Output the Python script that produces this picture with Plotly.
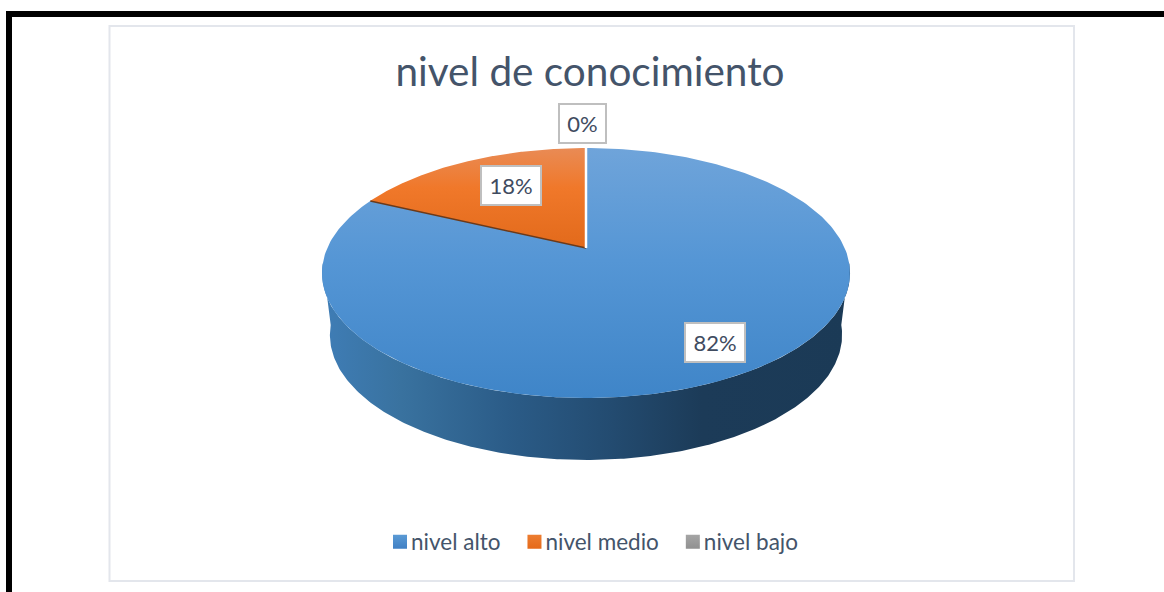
import numpy as np
import plotly.graph_objects as go

TITLE = "nivel de conocimiento"
categories = ["nivel alto", "nivel medio", "nivel bajo"]
values = [82, 18, 0]
key_colors = ["#5b9bd5", "#ed7d31", "#a5a5a5"]
key_edges = ["#4080c4", "#e56a1a", "#909090"]

# projection of the 3-D pie onto the page (pixel-space axes)
CX, CY, RX, SY, K = 586.0, 248.0, 258.7, 120.0, 0.2
DEPTH, SHRINK = 62.0, 0.97
LABEL_FRACTION = {"nivel alto": 0.80, "nivel medio": 0.68}
LABEL_SHIFT = {"nivel alto": (1, -1), "nivel medio": (10, 1), "nivel bajo": (0, 0)}
LABEL_WIDTH = {"nivel alto": 58, "nivel medio": 58, "nivel bajo": 45}
FONT = "Lato, Carlito, 'Open Sans', sans-serif"


def project(theta, frac=1.0, depth=0.0, scale=1.0):
    """theta in radians, clockwise from 12 o'clock."""
    u, v = frac * np.sin(theta), frac * np.cos(theta)
    w = 1 + K * v
    return CX + scale * RX * u / w, CY - SY * v / w + depth


def sector(start, end):
    t = np.linspace(start, end, 240)
    x, y = project(t)
    return np.r_[CX, x, CX], np.r_[CY, y, CY]


total = sum(values)
fractions = [v / total for v in values]
a0 = 0.0
a1 = a0 + 2 * np.pi * fractions[0]
a2 = a1 + 2 * np.pi * fractions[1]

fig = go.Figure()

# side wall: crescent between top rim and the shifted lower rim
t_near = np.linspace(np.radians(97), np.radians(263), 300)
xt, yt = project(t_near)
xb, yb = project(t_near, depth=DEPTH, scale=SHRINK)
fig.add_trace(go.Scatter(
    x=np.r_[xt, xb[::-1], xt[0]], y=np.r_[yt, yb[::-1], yt[0]],
    mode="lines", line=dict(width=0), fill="toself", hoverinfo="skip", showlegend=False,
    fillgradient=dict(type="horizontal", colorscale=[
        [0.0, "#3f7db6"], [0.15, "#39729f"], [0.35, "#2b5c88"], [0.55, "#234b70"],
        [0.72, "#1c3b58"], [1.0, "#1b3a56"]]),
))

# top face: blue slice (the y axis is reversed, so the scale runs bottom to top)
x, y = sector(a0, a1)
fig.add_trace(go.Scatter(
    x=x, y=y, mode="lines", line=dict(width=0), fill="toself",
    hoverinfo="skip", showlegend=False,
    fillgradient=dict(type="vertical", colorscale=[
        [0.0, "#3f85c8"], [0.55, "#5596d5"], [1.0, "#6fa4da"]]),
))
# top face: orange slice
x, y = sector(a1, a2)
fig.add_trace(go.Scatter(
    x=x, y=y, mode="lines", line=dict(width=0), fill="toself",
    hoverinfo="skip", showlegend=False,
    fillgradient=dict(type="vertical", colorscale=[
        [0.0, "#e26a1b"], [0.6, "#f0782a"], [1.0, "#e98b55"]]),
))
# slice edges
ex, ey = project(np.array([a1]))
fig.add_trace(go.Scatter(x=[CX, ex[0]], y=[CY, ey[0]], mode="lines",
                         line=dict(color="#6b3a1a", width=1.5), hoverinfo="skip", showlegend=False))
ex, ey = project(np.array([a2]))
fig.add_trace(go.Scatter(x=[CX, ex[0]], y=[CY, ey[0]], mode="lines",
                         line=dict(color="#ffffff", width=2.5), hoverinfo="skip", showlegend=False))

# legend keys
for name, col, edge in zip(categories, key_colors, key_edges):
    fig.add_trace(go.Scatter(x=[None], y=[None], mode="markers", name=name,
                             marker=dict(symbol="square", size=14, color=col, line_width=0,
                                         gradient=dict(type="vertical", color=edge))))

# data labels
start = 0.0
for name, val, frac in zip(categories, values, fractions):
    mid = start + np.pi * frac
    start += 2 * np.pi * frac
    if val == 0:
        lx, ly = CX - 3.5, CY - 125
    else:
        lx, ly = project(mid, LABEL_FRACTION[name])
    dx, dy = LABEL_SHIFT[name]
    fig.add_annotation(x=float(lx), y=float(ly), text=f"{val}%", showarrow=False,
                       xshift=dx, yshift=dy, width=LABEL_WIDTH[name], height=37,
                       font=dict(family=FONT, size=22, color="#404b5f"),
                       bgcolor="#ffffff", bordercolor="#bfbfbf", borderwidth=2, borderpad=0)

shapes = [
    dict(type="rect", x0=109.5, x1=1074, y0=26, y1=581, line=dict(color="#e3e6ec", width=2)),
    dict(type="rect", x0=6, x1=12, y0=11, y1=592, line_width=0, fillcolor="#000000"),
    dict(type="rect", x0=6, x1=1164, y0=11, y1=17, line_width=0, fillcolor="#000000"),
]

fig.update_layout(
    width=1164, height=592, margin=dict(l=0, r=0, t=0, b=0),
    paper_bgcolor="#ffffff", plot_bgcolor="#ffffff", shapes=shapes,
    xaxis=dict(range=[0, 1164], visible=False, fixedrange=True),
    yaxis=dict(range=[592, 0], visible=False, fixedrange=True),
    title=dict(text=TITLE, x=590 / 1164, y=1 - 72 / 592, xanchor="center", yanchor="middle",
               font=dict(family=FONT, size=40.5, color="#44546a")),
    legend=dict(orientation="h", x=587 / 1164, y=1 - 542 / 592, xanchor="center", yanchor="middle",
                font=dict(family=FONT, size=22.5, color="#44546a"), bgcolor="rgba(0,0,0,0)",
                itemwidth=30),
)

fig.write_html("out.html", config=dict(displayModeBar=False),
               post_script="document.body.style.margin='0';document.documentElement.style.overflow='hidden';"
                           "document.querySelectorAll('.legendpoints').forEach(function(p){"
                           "p.setAttribute('transform','translate(9,0)');});")
